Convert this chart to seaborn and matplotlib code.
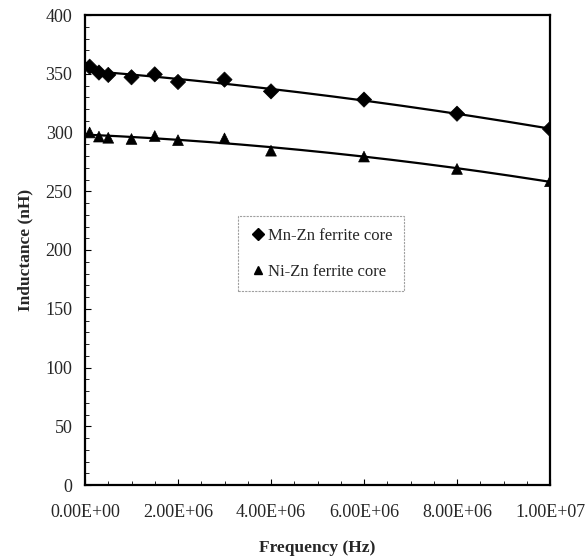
import numpy as np
import pandas as pd
import matplotlib
matplotlib.use("Agg")
import matplotlib.pyplot as plt
import seaborn as sns
from matplotlib.ticker import MultipleLocator, FuncFormatter
from matplotlib.lines import Line2D

freq = [1e5, 3e5, 5e5, 1e6, 1.5e6, 2e6, 3e6, 4e6, 6e6, 8e6, 1e7]
mnzn = [356, 351, 349, 347, 349.5, 343, 345, 335, 328, 316, 303]
nizn = [300, 296.5, 295.5, 294.5, 297, 293.5, 295, 284.5, 279.5, 269, 258.5]
labels = ["Mn-Zn ferrite core", "Ni-Zn ferrite core"]

sns.set_theme(style="ticks")
plt.rcParams["font.family"] = ["Liberation Serif", "DejaVu Serif"]

df = pd.DataFrame({
    "freq": freq * 2,
    "L": mnzn + nizn,
    "core": [labels[0]] * len(freq) + [labels[1]] * len(freq),
})

fig = plt.figure(figsize=(5.88, 5.57), dpi=100)
ax = fig.add_axes([85 / 588, 1 - 485 / 557, 465 / 588, 470 / 557])

sns.scatterplot(data=df, x="freq", y="L", hue="core", style="core",
                markers={labels[0]: "D", labels[1]: "^"},
                palette={labels[0]: "black", labels[1]: "black"},
                s=60, edgecolor="black", linewidth=0.5, ax=ax, legend=False,
                zorder=3)

xs = np.linspace(min(freq), max(freq), 200)
for vals in (mnzn, nizn):
    c = np.polyfit(freq, vals, 2)
    sns.lineplot(x=xs, y=np.polyval(c, xs), color="black", linewidth=1.6, ax=ax)

ax.set_xlim(0, 1e7)
ax.set_ylim(0, 400)
ax.xaxis.set_major_locator(MultipleLocator(2e6))
ax.xaxis.set_minor_locator(MultipleLocator(5e5))
ax.yaxis.set_major_locator(MultipleLocator(50))
ax.yaxis.set_minor_locator(MultipleLocator(10))
ax.xaxis.set_major_formatter(FuncFormatter(lambda v, p: f"{v:.2E}"))
ax.tick_params(which="both", direction="in", color="black", labelsize=13,
               top=False, right=False)
ax.tick_params(which="major", length=4, width=0.8)
ax.tick_params(axis="x", which="major", pad=14)
ax.tick_params(axis="y", which="major", pad=9)
ax.tick_params(which="minor", length=3, width=0.6)
for s in ax.spines.values():
    s.set_linewidth(1.6)
    s.set_color("black")

ax.set_xlabel("Frequency (Hz)", fontsize=12.5, fontweight="bold", labelpad=13)
ax.set_ylabel("Inductance (nH)", fontsize=12.5, fontweight="bold", labelpad=9)

handles = [Line2D([], [], marker="D", color="black", linestyle="none", markersize=6),
           Line2D([], [], marker="^", color="black", linestyle="none", markersize=6)]
leg = ax.legend(handles, labels, loc="upper left",
                bbox_to_anchor=((238 - 85) / 465, (485 - 216) / 470),
                frameon=True, fancybox=False, fontsize=12, handletextpad=0.1,
                handlelength=1.0, labelspacing=1.2, borderpad=0.7, borderaxespad=0)
leg.get_frame().set_edgecolor("#888888")
leg.get_frame().set_linewidth(0.8)
leg.get_frame().set_linestyle((0, (2, 1)))

fig.savefig("out.png", dpi=100)
